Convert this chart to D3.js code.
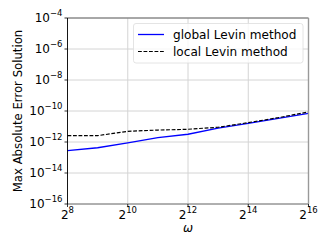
<!DOCTYPE html>
<html>
<head>
<meta charset="utf-8">
<script src="https://cdn.jsdelivr.net/npm/d3@7"></script>
<style>
  body { margin: 0; background: #fff; }
  svg { display: block; font-family: "DejaVu Sans", sans-serif; }
</style>
</head>
<body>
<div id="chart"></div>
<script>
// omega = 2^k, k = 8..16
const exponents = [8, 9, 10, 11, 12, 13, 14, 15, 16];
// log10 of max absolute error
const globalLevin = [-12.56, -12.37, -12.05, -11.72, -11.5, -11.1, -10.8, -10.47, -10.15];
const localLevin = [-11.59, -11.59, -11.31, -11.23, -11.18, -11.05, -10.75, -10.43, -10.06];
const xTicks = [8, 10, 12, 14, 16];
const yTicks = [-4, -6, -8, -10, -12, -14, -16];
const seriesNames = ["global Levin method", "local Levin method"];

const width = 332, height = 249;
const margin = { left: 67.5, right: 23.5, top: 18, bottom: 45 };

const svg = d3.select("#chart").append("svg")
  .attr("width", width)
  .attr("height", height);

const x = d3.scaleLinear().domain([8, 16]).range([margin.left, width - margin.right]);
const y = d3.scaleLinear().domain([-16, -4]).range([height - margin.bottom, margin.top]);

// grid
svg.append("g").selectAll("line.vg")
  .data(xTicks).enter().append("line")
  .attr("x1", d => x(d)).attr("x2", d => x(d))
  .attr("y1", margin.top).attr("y2", height - margin.bottom)
  .attr("stroke", "#d4d4d4").attr("stroke-width", 1);
svg.append("g").selectAll("line.hg")
  .data(yTicks).enter().append("line")
  .attr("x1", margin.left).attr("x2", width - margin.right)
  .attr("y1", d => y(d)).attr("y2", d => y(d))
  .attr("stroke", "#d4d4d4").attr("stroke-width", 1);

// lines
const line = d3.line().x((d, i) => x(exponents[i])).y(d => y(d));
svg.append("path").datum(globalLevin)
  .attr("d", line).attr("fill", "none")
  .attr("stroke", "#0000ff").attr("stroke-width", 1.3);
svg.append("path").datum(localLevin)
  .attr("d", line).attr("fill", "none")
  .attr("stroke", "#000").attr("stroke-width", 1.15)
  .attr("stroke-dasharray", "3.8,1.7");

// spines
const x0 = margin.left, x1 = width - margin.right, y0 = margin.top, y1 = height - margin.bottom;
svg.append("line").attr("x1", x0).attr("x2", x1).attr("y1", y0).attr("y2", y0).attr("stroke", "#666").attr("stroke-width", 1.2);
svg.append("line").attr("x1", x0).attr("x2", x1).attr("y1", y1).attr("y2", y1).attr("stroke", "#777").attr("stroke-width", 1.2);
svg.append("line").attr("x1", x1).attr("x2", x1).attr("y1", y0).attr("y2", y1).attr("stroke", "#999").attr("stroke-width", 1.4);
svg.append("line").attr("x1", x0).attr("x2", x0).attr("y1", y0).attr("y2", y1).attr("stroke", "#000").attr("stroke-width", 0.9);

// y ticks
const yt = svg.append("g").selectAll("g").data(yTicks).enter().append("g");
yt.append("line")
  .attr("x1", x0 - 3).attr("x2", x0)
  .attr("y1", d => y(d)).attr("y2", d => y(d))
  .attr("stroke", "#000").attr("stroke-width", 0.8);
const ytxt = yt.append("text")
  .attr("x", x0 - 5).attr("y", d => y(d) + 4)
  .attr("text-anchor", "end")
  .attr("font-size", 12).attr("fill", "#000");
ytxt.append("tspan").text("10");
ytxt.append("tspan").attr("dy", -6).attr("font-size", 8.5).text(d => "\u2212" + (-d));

// x ticks
const xt = svg.append("g").selectAll("g").data(xTicks).enter().append("g");
xt.append("line")
  .attr("x1", d => x(d)).attr("x2", d => x(d))
  .attr("y1", y1).attr("y2", y1 + 3)
  .attr("stroke", "#000").attr("stroke-width", 0.8);
const xtxt = xt.append("text")
  .attr("x", d => x(d)).attr("y", y1 + 14.5)
  .attr("text-anchor", "middle")
  .attr("font-size", 12).attr("fill", "#000");
xtxt.append("tspan").text("2");
xtxt.append("tspan").attr("dy", -6).attr("font-size", 8.5).text(d => d);

// axis labels
svg.append("text")
  .attr("x", (x0 + x1) / 2).attr("y", y1 + 28)
  .attr("text-anchor", "middle")
  .attr("font-size", 12).attr("font-style", "italic")
  .text("\u03c9");
svg.append("text")
  .attr("transform", `translate(22,${(y0 + y1) / 2}) rotate(-90)`)
  .attr("text-anchor", "middle")
  .attr("font-size", 11.7)
  .text("Max Absolute Error Solution");

// legend
const lg = svg.append("g");
lg.append("rect")
  .attr("x", 133.5).attr("y", 23.5).attr("width", 169.5).attr("height", 39.5)
  .attr("rx", 2.5)
  .attr("fill", "#fff").attr("fill-opacity", 0.8)
  .attr("stroke", "#ddd").attr("stroke-width", 0.8);
const legendStyles = [
  { stroke: "#0000ff", dash: null, w: 1.3 },
  { stroke: "#000", dash: "3.8,1.7", w: 1.15 }
];
seriesNames.forEach((name, i) => {
  const ly = 34.5 + i * 17;
  lg.append("line")
    .attr("x1", 138).attr("x2", 164)
    .attr("y1", ly).attr("y2", ly)
    .attr("stroke", legendStyles[i].stroke)
    .attr("stroke-width", legendStyles[i].w)
    .attr("stroke-dasharray", legendStyles[i].dash);
  lg.append("text")
    .attr("x", 173).attr("y", ly + 4.8)
    .attr("font-size", 12.1)
    .text(name);
});
</script>
</body>
</html>
